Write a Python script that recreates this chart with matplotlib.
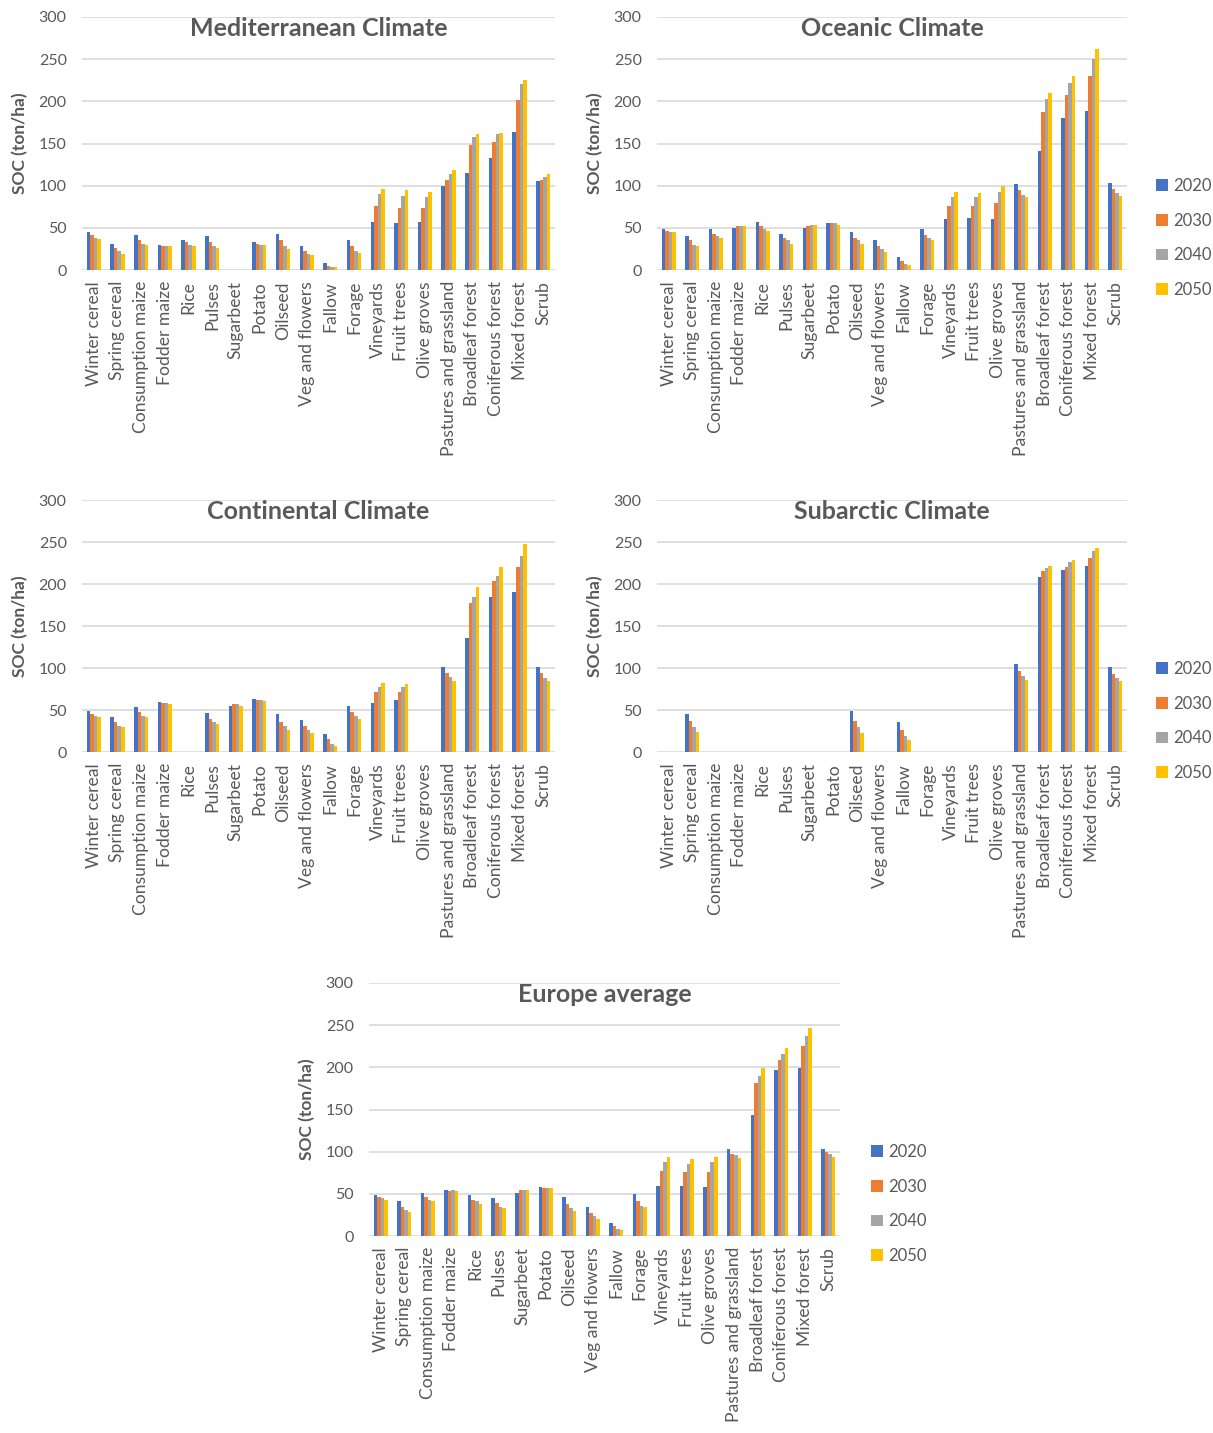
import numpy as np
import matplotlib
matplotlib.use("Agg")
import matplotlib.pyplot as plt
from matplotlib.patches import Patch

W, H, DPI = 1213, 1433, 100

categories = [
    "Winter cereal", "Spring cereal", "Consumption maize", "Fodder maize", "Rice",
    "Pulses", "Sugarbeet", "Potato", "Oilseed", "Veg and flowers", "Fallow",
    "Forage", "Vineyards", "Fruit trees", "Olive groves", "Pastures and grassland",
    "Broadleaf forest", "Coniferous forest", "Mixed forest", "Scrub",
]
years = ["2020", "2030", "2040", "2050"]
colors = ["#4472C4", "#ED7D31", "#A5A5A5", "#FFC000"]

# SOC (ton/ha) per land use, one list per projection year
med_2020 = [45, 31, 41.5, 30, 36, 40, 0, 33, 43, 28, 8.7, 35, 57, 56, 57, 100, 115, 132.5, 163.5, 105]
med_2030 = [41.5, 26, 35, 28, 33, 33, 0, 31, 35, 23, 5, 28, 75.5, 74, 74, 107, 148, 151.5, 201, 107]
med_2040 = [38, 23, 31, 28, 30, 28, 0, 30, 28, 19, 3.5, 23, 90, 88, 86, 113.5, 158, 161.5, 220, 110]
med_2050 = [36.4, 19, 30, 28, 28, 26.5, 0, 30, 24.5, 18, 3.5, 20, 96.5, 95, 93, 119, 161.5, 163, 225, 113.5]

oce_2020 = [48.7, 40, 48.7, 50, 57, 43, 50, 55.5, 45, 35, 16, 48.7, 60.5, 62, 60.5, 101.7, 141, 180.4, 189, 103]
oce_2030 = [46.7, 35, 43, 52, 52, 38, 52, 55.5, 38, 28, 11, 41.5, 75.5, 75.5, 79.5, 94.6, 187, 207.7, 230, 96]
oce_2040 = [45, 30, 40, 52, 48.7, 35, 53.5, 55.5, 35, 24.5, 7.5, 38, 86, 86, 93, 89.4, 202.6, 221.6, 250, 91.4]
oce_2050 = [45, 28, 38, 52, 46.7, 31, 53.5, 53.5, 31, 21, 6, 35, 93, 91.4, 100, 86, 209.7, 230, 262, 88]

con_2020 = [48.5, 41.3, 53, 60, 0, 46.5, 55, 63.6, 45, 38, 22, 55, 58.4, 62, 0, 101.7, 136, 184, 191, 101.7]
con_2030 = [45, 36, 48, 58.4, 0, 39.7, 57, 62, 36, 31, 15.5, 48, 72, 72, 0, 94.6, 177, 203, 220, 94.6]
con_2040 = [43, 31, 43, 58.4, 0, 36, 57, 62, 31, 26, 10, 43, 77, 77, 0, 89.4, 184, 210, 233.6, 87.8]
con_2050 = [41.3, 29.4, 41.3, 57, 0, 33, 55, 60.4, 26, 22.6, 7, 39, 82.6, 80.6, 0, 84.2, 196, 220, 248, 84.2]

sub_2020 = [0, 45, 0, 0, 0, 0, 0, 0, 48.5, 0, 36, 0, 0, 0, 0, 105, 208, 217, 221.7, 101.7]
sub_2030 = [0, 36.5, 0, 0, 0, 0, 0, 0, 36.5, 0, 26, 0, 0, 0, 0, 96.5, 215, 220, 230.4, 93]
sub_2040 = [0, 29.4, 0, 0, 0, 0, 0, 0, 29.4, 0, 19, 0, 0, 0, 0, 91, 218.5, 225.7, 239, 87.8]
sub_2050 = [0, 24.2, 0, 0, 0, 0, 0, 0, 22.6, 0, 14, 0, 0, 0, 0, 86, 221.7, 229, 242.7, 84.2]

eur_2020 = [48.3, 41.5, 51.4, 55, 48.3, 44.7, 51.4, 58, 46.7, 34.4, 15.4, 49.5, 59.8, 59.8, 58, 103, 144, 197, 198.7, 103]
eur_2030 = [46.7, 34.8, 46.7, 53.4, 43, 39.6, 55, 56.6, 38, 27.3, 11.9, 41, 77, 75.6, 75.6, 97.7, 181.6, 209, 224.8, 99.3]
eur_2040 = [44.7, 31.3, 43, 55, 41.5, 34.8, 55, 56.6, 32.8, 24, 8.3, 36, 87.5, 85.5, 87.5, 95.8, 190.3, 216, 236.6, 97.7]
eur_2050 = [43, 28, 41.5, 53.4, 38, 33, 55, 56.6, 29.7, 20, 6.7, 34.4, 94, 91, 94, 92.6, 198.7, 222.8, 246.5, 94]

TEXT = "#595959"
plt.rcParams["font.family"] = ["Lato", "DejaVu Sans"]

fig = plt.figure(figsize=(W / DPI, H / DPI), dpi=DPI)


def add_panel(left, top, right, bottom, title, series, legend_at=None):
    ax = fig.add_axes([left / W, 1 - bottom / H, (right - left) / W, (bottom - top) / H])
    x = np.arange(len(categories))
    width = 0.15
    for i, (vals, col, lab) in enumerate(zip(series, colors, years)):
        ax.bar(x + (i - 1.5) * width, vals, width, color=col, label=lab, linewidth=0)
    ax.set_xlim(-0.5, len(categories) - 0.5)
    ax.set_ylim(0, 300)
    ax.set_yticks(range(0, 301, 50))
    ax.set_xticks(x)
    ax.set_xticklabels(categories, rotation=90, ha="center", va="top")
    ax.grid(axis="y", color="#D9D9D9", linewidth=1.2)
    ax.set_axisbelow(True)
    for s in ax.spines.values():
        s.set_visible(False)
    ax.tick_params(axis="y", length=0, pad=11, labelsize=11.5, labelcolor=TEXT)
    ax.tick_params(axis="x", length=0, pad=8, labelsize=12.6, labelcolor=TEXT)
    ax.set_ylabel("SOC (ton/ha)", fontsize=12.5, fontweight="bold", color=TEXT)
    ax.yaxis.set_label_coords(-54 / (right - left), 0.5)
    # title sits just under the top gridline
    ax.text(0.5, 1 - 19 / (bottom - top), title, transform=ax.transAxes,
            ha="center", va="baseline", fontsize=18, fontweight="bold", color=TEXT)
    if legend_at is not None:
        handles = [Patch(facecolor=c, edgecolor="none", label=l) for c, l in zip(colors, years)]
        fig.legend(handles=handles, loc="center left",
                   bbox_to_anchor=(legend_at[0] / W, 1 - legend_at[1] / H),
                   frameon=False, fontsize=12, labelcolor=TEXT,
                   handlelength=0.7, handleheight=0.7, handletextpad=0.35,
                   labelspacing=1.12, borderpad=0, borderaxespad=0)
    return ax


add_panel(82, 17, 555, 270, "Mediterranean Climate",
          [med_2020, med_2030, med_2040, med_2050])
add_panel(657, 17, 1127, 270, "Oceanic Climate",
          [oce_2020, oce_2030, oce_2040, oce_2050], legend_at=(1156, 238))
add_panel(82, 500, 555, 752, "Continental Climate",
          [con_2020, con_2030, con_2040, con_2050])
add_panel(657, 500, 1127, 752, "Subarctic Climate",
          [sub_2020, sub_2030, sub_2040, sub_2050], legend_at=(1156, 721))
add_panel(369, 983, 840, 1236, "Europe average",
          [eur_2020, eur_2030, eur_2040, eur_2050], legend_at=(871, 1204))

fig.savefig("out.png", dpi=DPI, facecolor="white")
